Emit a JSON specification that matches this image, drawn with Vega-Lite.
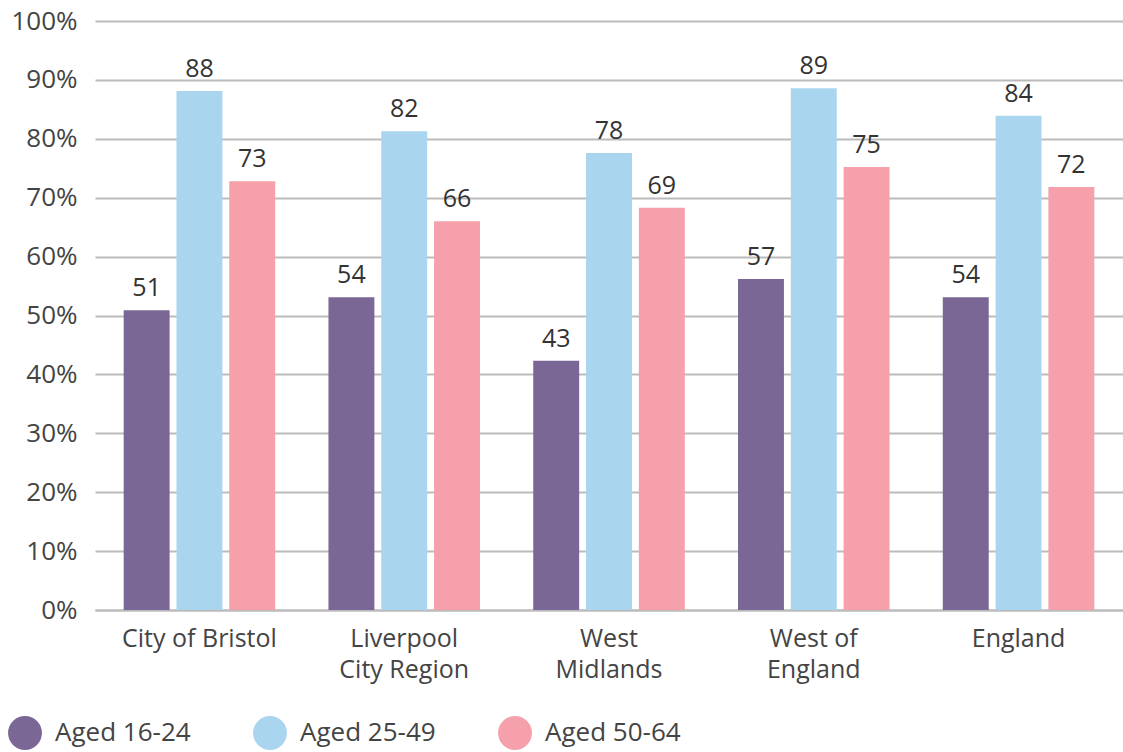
{
  "$schema": "https://vega.github.io/schema/vega-lite/v6.json",
  "autosize": "none",
  "width": 1028,
  "height": 589,
  "padding": {"left": 95, "top": 21, "right": 0, "bottom": 142},
  "background": "white",
  "config": {
    "font": "Open Sans",
    "view": {"stroke": null}
  },
  "data": {
    "values": [
      {"region": "City of Bristol", "age": "Aged 16-24", "value": 50.9, "label": "51"},
      {"region": "City of Bristol", "age": "Aged 25-49", "value": 88.1, "label": "88"},
      {"region": "City of Bristol", "age": "Aged 50-64", "value": 72.8, "label": "73"},
      {"region": "Liverpool City Region", "age": "Aged 16-24", "value": 53.1, "label": "54"},
      {"region": "Liverpool City Region", "age": "Aged 25-49", "value": 81.3, "label": "82"},
      {"region": "Liverpool City Region", "age": "Aged 50-64", "value": 66.0, "label": "66"},
      {"region": "West Midlands", "age": "Aged 16-24", "value": 42.3, "label": "43"},
      {"region": "West Midlands", "age": "Aged 25-49", "value": 77.6, "label": "78"},
      {"region": "West Midlands", "age": "Aged 50-64", "value": 68.3, "label": "69"},
      {"region": "West of England", "age": "Aged 16-24", "value": 56.2, "label": "57"},
      {"region": "West of England", "age": "Aged 25-49", "value": 88.6, "label": "89"},
      {"region": "West of England", "age": "Aged 50-64", "value": 75.2, "label": "75"},
      {"region": "England", "age": "Aged 16-24", "value": 53.1, "label": "54"},
      {"region": "England", "age": "Aged 25-49", "value": 83.9, "label": "84"},
      {"region": "England", "age": "Aged 50-64", "value": 71.8, "label": "72"}
    ]
  },
  "encoding": {
    "x": {
      "field": "region",
      "type": "nominal",
      "sort": null,
      "scale": {"paddingInner": 0.26, "paddingOuter": 0.14},
      "axis": {
        "title": null,
        "labelAngle": 0,
        "labelFontSize": 25,
        "labelColor": "#444444",
        "labelPadding": 16,
        "labelLineHeight": 31,
        "labelBaseline": "top",
        "ticks": false,
        "domain": true,
        "domainColor": "#bbbbbb",
        "domainWidth": 2,
        "labelExpr": "datum.label == 'Liverpool City Region' ? ['Liverpool', 'City Region'] : datum.label == 'West Midlands' ? ['West', 'Midlands'] : datum.label == 'West of England' ? ['West of', 'England'] : datum.label"
      }
    },
    "xOffset": {
      "field": "age",
      "type": "nominal",
      "scale": {"paddingInner": 0.13, "paddingOuter": 0}
    },
    "y": {
      "field": "value",
      "type": "quantitative",
      "scale": {"domain": [0, 100]},
      "axis": {
        "title": null,
        "values": [0, 10, 20, 30, 40, 50, 60, 70, 80, 90, 100],
        "labelExpr": "datum.value + '%'",
        "labelFontSize": 26,
        "labelColor": "#444444",
        "labelPadding": 18,
        "ticks": false,
        "domain": false,
        "grid": true,
        "gridColor": "#bbbbbb",
        "gridWidth": 2
      }
    }
  },
  "layer": [
    {
      "mark": {"type": "bar"},
      "encoding": {
        "color": {
          "field": "age",
          "type": "nominal",
          "scale": {
            "domain": ["Aged 16-24", "Aged 25-49", "Aged 50-64"],
            "range": ["#7b6795", "#aad5ef", "#f5a0ab"]
          },
          "legend": {
            "title": null,
            "orient": "none",
            "direction": "horizontal",
            "legendX": -87,
            "legendY": 695,
            "symbolType": "circle",
            "symbolSize": 1150,
            "symbolStrokeWidth": 0,
            "labelFontSize": 26,
            "labelColor": "#444444",
            "labelOffset": 13,
            "columnPadding": 62,
            "symbolOpacity": 1
          }
        }
      }
    },
    {
      "mark": {"type": "text", "baseline": "alphabetic", "dy": -14, "fontSize": 25, "color": "#333333"},
      "encoding": {
        "text": {"field": "label"}
      }
    }
  ]
}
